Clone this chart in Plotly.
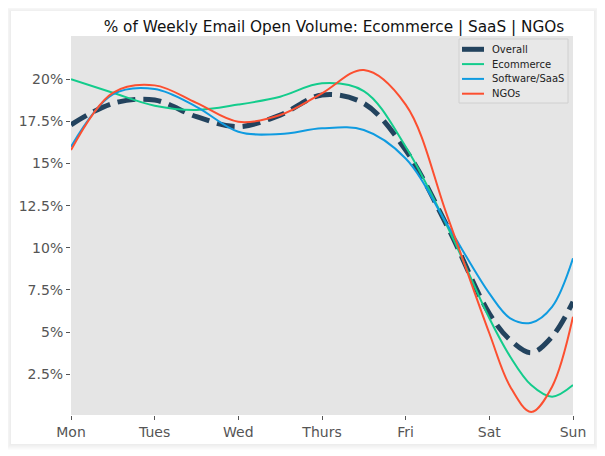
import plotly.graph_objects as go

# Day positions (0=Mon ... 6=Sun)
days = [0, 0.5, 1, 1.5, 2, 2.5, 3, 3.5, 4, 4.5, 5, 5.25, 5.5, 5.75, 6]
tick_days = [0, 1, 2, 3, 4, 5, 6]
tick_labels = ["Mon", "Tues", "Wed", "Thurs", "Fri", "Sat", "Sun"]

overall = [17.3, 18.57, 18.77, 17.78, 17.19, 17.88, 19.07, 18.57, 15.8, 11.25, 6.1, 4.53, 3.78, 4.73, 6.8]
ecommerce = [20.0, 19.2, 18.43, 18.18, 18.5, 18.97, 19.76, 19.3, 16.0, 11.25, 5.82, 3.54, 1.86, 1.17, 1.86]
saas = [16.0, 19.1, 19.42, 18.37, 16.89, 16.75, 17.09, 16.99, 15.3, 11.35, 7.3, 5.82, 5.56, 6.5, 9.38]
ngos = [15.8, 19.2, 19.64, 18.6, 17.48, 17.88, 19.17, 20.55, 18.5, 11.85, 4.93, 1.76, 0.26, 1.76, 5.91]

series_names = ["Overall", "Ecommerce", "Software/SaaS", "NGOs"]
series_colors = ["#23435e", "#13cc8c", "#0f9be0", "#fc4f30"]

y_ticks = [2.5, 5, 7.5, 10, 12.5, 15, 17.5, 20]
y_labels = ["2.5%", "5%", "7.5%", "10%", "12.5%", "15%", "17.5%", "20%"]

# The page body adds an 8px offset; lay out in reference pixel coords minus it.
OFF = 8
W, H = 605 - OFF, 456 - OFF
L, R, T, B = 71 - OFF, 573 - OFF, 36 - OFF, 415 - OFF


def px(x):
    return (x - OFF - L) / (R - L)


def py(y):
    return (B - (y - OFF)) / (B - T)


fig = go.Figure()
series = [overall, ecommerce, saas, ngos]
for name, vals, col in zip(series_names, series, series_colors):
    if name == "Overall":
        line = dict(color=col, width=5, dash="18px,8px", shape="spline", smoothing=1.0)
    else:
        line = dict(color=col, width=2, shape="spline", smoothing=1.0)
    fig.add_trace(go.Scatter(x=days, y=vals, name=name, mode="lines", line=line,
                             showlegend=False))

shapes = []
# soft card shadow
for k in range(6, 0, -1):
    shapes.append(dict(type="rect", xref="paper", yref="paper", layer="below",
                       x0=px(11 - k), x1=px(594 + k), y0=py(444 + k), y1=py(11 - k + 1),
                       line=dict(width=0), fillcolor="rgba(0,0,0,0.010)"))
# white card
shapes.append(dict(type="rect", xref="paper", yref="paper", layer="below",
                   x0=px(11), x1=px(594), y0=py(444), y1=py(11),
                   line=dict(width=0), fillcolor="white"))
# plot area
shapes.append(dict(type="rect", xref="paper", yref="paper", layer="below",
                   x0=0, x1=1, y0=0, y1=1, line=dict(width=0), fillcolor="#e5e5e5"))

# legend (drawn to match the reference's compact box)
annotations = []
shapes.append(dict(type="rect", xref="paper", yref="paper", layer="above",
                   x0=px(459), x1=px(568), y0=py(103), y1=py(39),
                   line=dict(width=1, color="#d0d0d0"), fillcolor="#e8e8e8"))
for i, (name, col) in enumerate(zip(series_names, series_colors)):
    yc = 49.3 + 14.8 * i
    shapes.append(dict(type="line", xref="paper", yref="paper", layer="above",
                       x0=px(462), x1=px(484), y0=py(yc), y1=py(yc),
                       line=dict(color=col, width=5 if name == "Overall" else 2)))
    annotations.append(dict(text=name, xref="paper", yref="paper", x=px(490), y=py(yc),
                            xanchor="left", yanchor="middle", showarrow=False,
                            font=dict(size=10, color="#222222", family="DejaVu Sans")))

fig.update_layout(
    width=W, height=H,
    margin=dict(l=L, r=W - R, t=T, b=H - B),
    paper_bgcolor="white",
    plot_bgcolor="rgba(0,0,0,0)",
    shapes=shapes,
    annotations=annotations,
    font=dict(family="DejaVu Sans", color="#555555"),
    title=dict(text="% of Weekly Email Open Volume: Ecommerce | SaaS | NGOs",
               x=(334 - OFF) / W, xanchor="center", y=1 - (27 - OFF) / H, yanchor="middle",
               font=dict(size=15.3, color="#111111", family="DejaVu Sans")),
    showlegend=False,
    xaxis=dict(range=[0, 6], tickvals=tick_days, ticktext=tick_labels,
               showgrid=False, zeroline=False, showline=False,
               ticks="outside", ticklen=4, tickcolor="#555555", tickwidth=1,
               tickfont=dict(size=14, color="#555555")),
    yaxis=dict(range=[0.08, 22.57], tickvals=y_ticks, ticktext=y_labels,
               showgrid=False, zeroline=False, showline=False,
               ticks="outside", ticklen=4, tickcolor="#555555", tickwidth=1,
               tickfont=dict(size=14, color="#555555")),
)

fig.write_html("out.html")
